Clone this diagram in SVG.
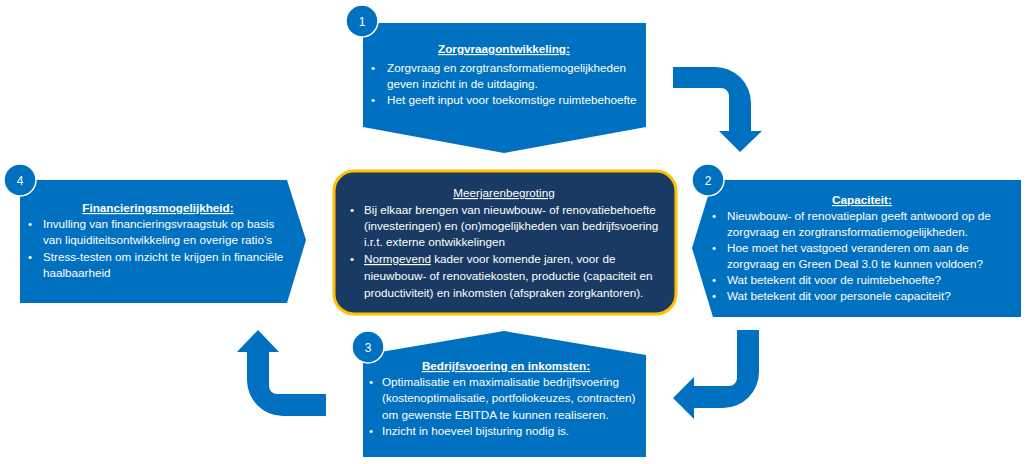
<svg xmlns="http://www.w3.org/2000/svg" width="1029" height="464" viewBox="0 0 1029 464">
<style>
.box{fill:#0070C0}
.arrow{fill:#0070C0}
.num{fill:#0070C0;stroke:#ffffff;stroke-width:1.5}
text{font-family:"Liberation Sans",Arial,sans-serif;font-size:11.7px;fill:#ffffff}
.title{font-weight:bold;text-decoration:underline;text-anchor:middle}
.ctitle{text-decoration:underline;text-anchor:middle}
.n{text-anchor:middle;font-size:12px}
.u{text-decoration:underline}
</style>
<rect width="1029" height="464" fill="#ffffff"/>
<g id="connectors">
<path class="arrow" d="M673,67 H715 A36,36 0 0 1 751,103 V131 H762 L740,152 L719,131 H729 V96 A8,8 0 0 0 721,88 H673 Z"/>
<path class="arrow" d="M737,330 H759 V372 A36,36 0 0 1 723,408 H694 V419 L673,398 L694,377 V386 H729 A8,8 0 0 0 737,378 Z"/>
<path class="arrow" d="M326,394 V416 H283 A36,36 0 0 1 247,380 V352 H237 L258,330 L279,352 H269 V386 A8,8 0 0 0 277,394 Z"/>
</g>
<g id="node1">
<polygon class="box" points="363,23 646,23 646,127 504,153 363,127"/>
<circle class="num" cx="362" cy="21" r="16"/>
<text class="n" x="362" y="25.5">1</text>
<text class="title" x="504" y="53">Zorgvraagontwikkeling:</text>
<text x="371" y="72">•</text><text x="387" y="72">Zorgvraag en zorgtransformatiemogelijkheden</text>
<text x="387" y="88">geven inzicht in de uitdaging.</text>
<text x="371" y="104">•</text><text x="387" y="104">Het geeft input voor toekomstige ruimtebehoefte</text>
</g>
<g id="node2">
<polygon class="box" points="713,180 1021,180 1021,317 713,317 692,248"/>
<circle class="num" cx="708" cy="180" r="16"/>
<text class="n" x="708" y="184.5">2</text>
<text class="title" x="862" y="204">Capaciteit:</text>
<text x="712" y="220">•</text><text x="727" y="220">Nieuwbouw- of renovatieplan geeft antwoord op de</text>
<text x="727" y="236">zorgvraag en zorgtransformatiemogelijkheden.</text>
<text x="712" y="252">•</text><text x="727" y="252">Hoe moet het vastgoed veranderen om aan de</text>
<text x="727" y="268">zorgvraag en Green Deal 3.0 te kunnen voldoen?</text>
<text x="712" y="284">•</text><text x="727" y="284">Wat betekent dit voor de ruimtebehoefte?</text>
<text x="712" y="300">•</text><text x="727" y="300">Wat betekent dit voor personele capaciteit?</text>
</g>
<g id="node3">
<polygon class="box" points="363,355 504,331 646,355 646,457 363,457"/>
<circle class="num" cx="368" cy="347" r="16"/>
<text class="n" x="368" y="351.5">3</text>
<text class="title" x="506" y="370">Bedrijfsvoering en inkomsten:</text>
<text x="369" y="386">•</text><text x="382" y="386">Optimalisatie en maximalisatie bedrijfsvoering</text>
<text x="382" y="402">(kostenoptimalisatie, portfoliokeuzes, contracten)</text>
<text x="382" y="419">om gewenste EBITDA te kunnen realiseren.</text>
<text x="369" y="435">•</text><text x="382" y="435">Inzicht in hoeveel bijsturing nodig is.</text>
</g>
<g id="node4">
<polygon class="box" points="20,180 287,180 306,240 287,303 20,303"/>
<circle class="num" cx="20" cy="180" r="16"/>
<text class="n" x="20" y="184.5">4</text>
<text class="title" x="158" y="212">Financieringsmogelijkheid:</text>
<text x="28" y="228">•</text><text x="43" y="228">Invulling van financieringsvraagstuk op basis</text>
<text x="43" y="244">van liquiditeitsontwikkeling en overige ratio’s</text>
<text x="28" y="261">•</text><text x="43" y="261">Stress-testen om inzicht te krijgen in financiële</text>
<text x="43" y="277">haalbaarheid</text>
</g>
<g id="center">
<rect x="334" y="171" width="342" height="143" rx="20" ry="20" fill="#193A63" stroke="#FFC000" stroke-width="3"/>
<text class="ctitle" x="504" y="197">Meerjarenbegroting</text>
<text x="350" y="214">•</text><text x="364" y="214">Bij elkaar brengen van nieuwbouw- of renovatiebehoefte</text>
<text x="364" y="230">(investeringen) en (on)mogelijkheden van bedrijfsvoering</text>
<text x="364" y="246">i.r.t. externe ontwikkelingen</text>
<text x="350" y="263">•</text><text x="364" y="263"><tspan class="u">Normgevend</tspan> kader voor komende jaren, voor de</text>
<text x="364" y="280">nieuwbouw- of renovatiekosten, productie (capaciteit en</text>
<text x="364" y="297">productiviteit) en inkomsten (afspraken zorgkantoren).</text>
</g>
</svg>
